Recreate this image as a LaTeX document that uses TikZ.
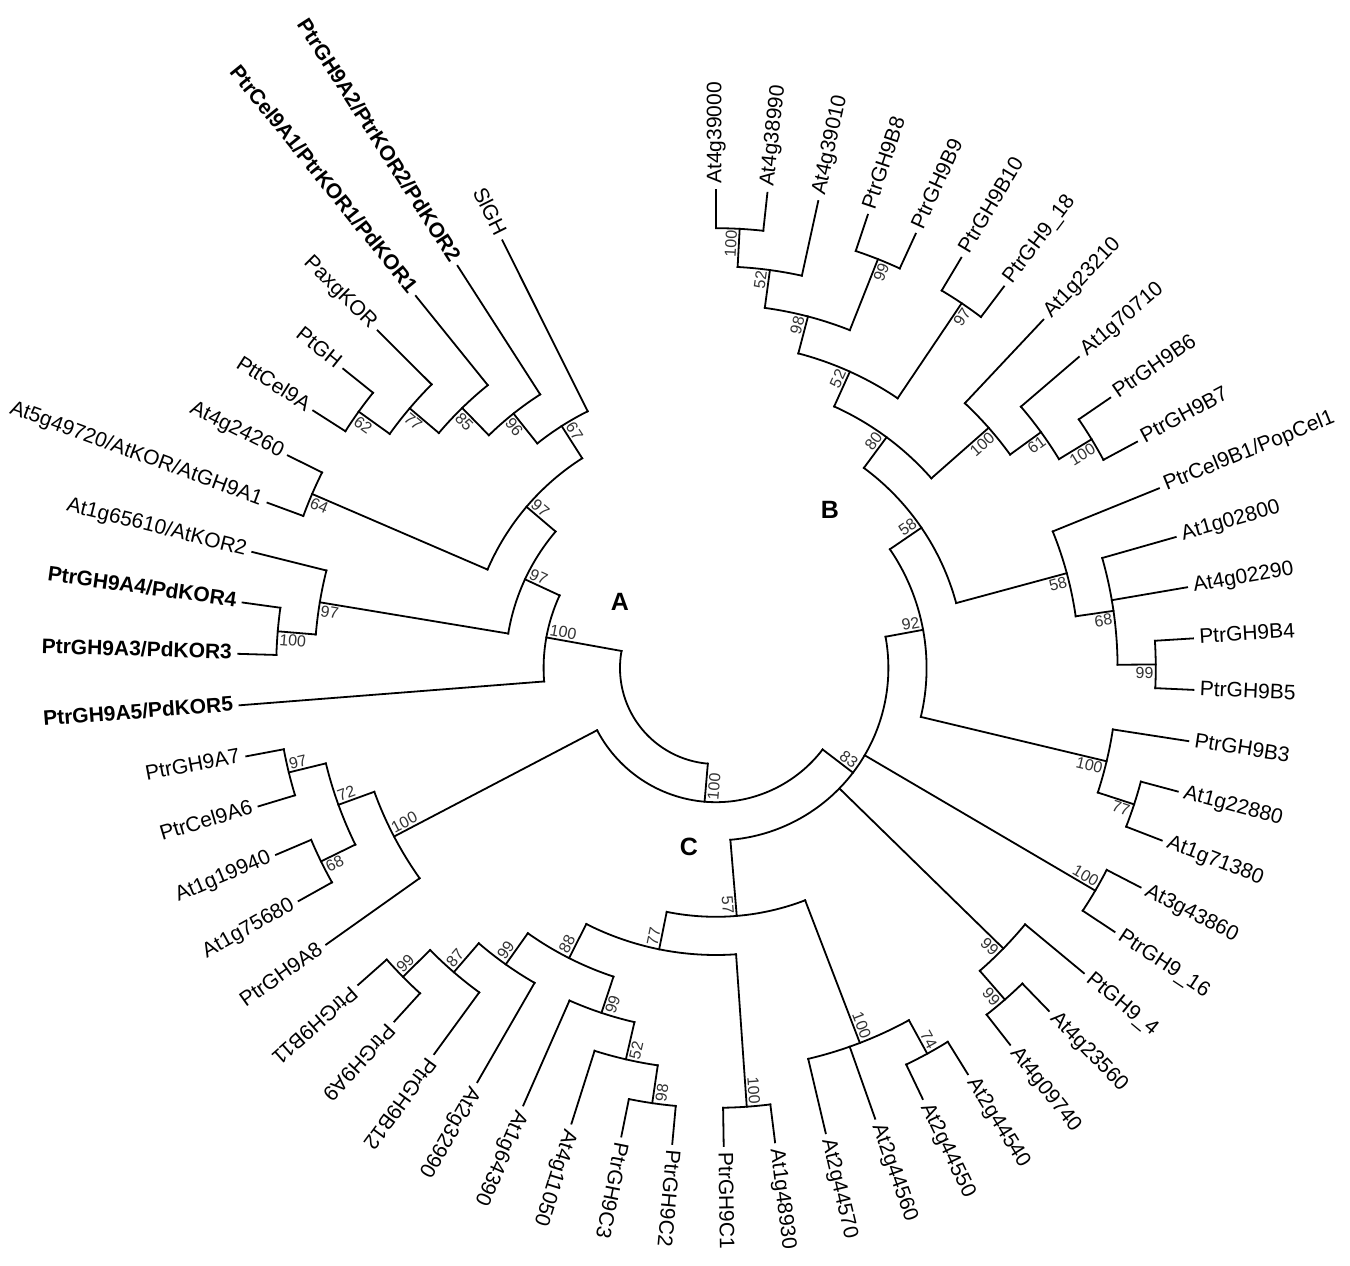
\documentclass[tikz,border=0pt]{standalone}
\usepackage{fontspec}
\setmainfont{Liberation Sans}
\makeatletter
\newcommand\setleaf[2]{\pgfmathsetmacro\my@tmp{116.55+6.175*(#2)}\expandafter\xdef\csname ang@#1\endcsname{\my@tmp}}
\newcommand\setnode[3]{\pgfmathsetmacro\my@tmp{(\csname ang@#2\endcsname+\csname ang@#3\endcsname)/2}\expandafter\xdef\csname ang@#1\endcsname{\my@tmp}}
\newcommand\ang[1]{\csname ang@#1\endcsname}
\makeatother
% leaf: index, parent height, style, text
\newcommand\lf[4]{%
  \coordinate (L#1-b) at (\ang{L#1}:{478-38.2*#2});
  \coordinate (L#1) at (\ang{L#1}:478);
  \draw[branch] (L#1-b) -- (L#1);
  \pgfmathsetmacro\myT{mod(\ang{L#1},360)}%
  \pgfmathtruncatemacro\myFl{(\myT>90.5)*(\myT<218)}%
  \ifnum\myFl=1
    \pgfmathsetmacro\myRot{\myT-180}%
    \node[leaftext,#3,rotate=\myRot,anchor=mid east] (L#1-t) at (\myT:484) {#4};
  \else
    \node[leaftext,#3,rotate=\myT,anchor=mid west] (L#1-t) at (\myT:484) {#4};
  \fi}
% internal node: name, first child, last child, height, parent height
\newcommand\inode[5]{%
  \setnode{#1}{#2}{#3}%
  \coordinate (#1-b) at (\ang{#1}:{478-38.2*#5});
  \coordinate (#1) at (\ang{#1}:{478-38.2*#4});
  \draw[branch] (#1-b) -- (#1);
  \draw[branch] (#2-b) arc[start angle=\ang{#2}, end angle=\ang{#3}, radius={478-38.2*#4}];}
% bootstrap: node, value, side (c = counterclockwise, w = clockwise)
\newcommand\bs[3]{%
  \pgfmathsetmacro\myT{mod(\ang{#1},360)}%
  \pgfmathtruncatemacro\myFl{(\myT>90.5)*(\myT<270)}%
  \ifnum\myFl=1
    \pgfmathsetmacro\myRot{\myT-180}%
    \if#3c\def\myAnc{north west}\else\def\myAnc{south west}\fi
  \else
    \pgfmathsetmacro\myRot{\myT}%
    \if#3c\def\myAnc{south east}\else\def\myAnc{north east}\fi
  \fi
  \node[bstext,rotate=\myRot,anchor=\myAnc] (#1-l) at (#1) {#2};}
\begin{document}
\begin{tikzpicture}[x=0.5pt,y=0.5pt,
  branch/.style={line width=0.9pt,line cap=rect,line join=miter},
  leaftext/.style={font=\fontsize{10.5}{12}\selectfont,inner sep=0pt},
  plainleaf/.style={},
  boldleaf/.style={font=\fontsize{10.5}{12}\selectfont\bfseries},
  bstext/.style={font=\fontsize{8}{9}\selectfont,inner sep=1pt,text=black!80},
  clade/.style={font=\fontsize{12.5}{14}\selectfont\bfseries}]
\useasboundingbox[fill=white] (-716,-597) rectangle (634,668);
\foreach \i in {0,...,54}{\setleaf{L\i}{\i}}
% leaves
\lf{0}{5}{plainleaf}{SlGH}
\lf{1}{4}{boldleaf}{PtrGH9A2/PtrKOR2/PdKOR2}
\lf{2}{3}{boldleaf}{PtrCel9A1/PtrKOR1/PdKOR1}
\lf{3}{2}{plainleaf}{PaxgKOR}
\lf{4}{1}{plainleaf}{PtGH}
\lf{5}{1}{plainleaf}{PttCel9A}
\lf{6}{1}{plainleaf}{At4g24260}
\lf{7}{1}{plainleaf}{At5g49720/AtKOR/AtGH9A1}
\lf{8}{2}{plainleaf}{At1g65610/AtKOR2}
\lf{9}{1}{boldleaf}{PtrGH9A4/PdKOR4}
\lf{10}{1}{boldleaf}{PtrGH9A3/PdKOR3}
\lf{11}{8}{boldleaf}{PtrGH9A5/PdKOR5}
\lf{12}{1}{plainleaf}{PtrGH9A7}
\lf{13}{1}{plainleaf}{PtrCel9A6}
\lf{14}{1}{plainleaf}{At1g19940}
\lf{15}{1}{plainleaf}{At1g75680}
\lf{16}{3}{plainleaf}{PtrGH9A8}
\lf{17}{1}{plainleaf}{PtrGH9B11}
\lf{18}{1}{plainleaf}{PtrGH9A9}
\lf{19}{2}{plainleaf}{PtrGH9B12}
\lf{20}{3}{plainleaf}{At2g32990}
\lf{21}{3}{plainleaf}{At1g64390}
\lf{22}{2}{plainleaf}{At4g11050}
\lf{23}{1}{plainleaf}{PtrGH9C3}
\lf{24}{1}{plainleaf}{PtrGH9C2}
\lf{25}{1}{plainleaf}{PtrGH9C1}
\lf{26}{1}{plainleaf}{At1g48930}
\lf{27}{2}{plainleaf}{At2g44570}
\lf{28}{2}{plainleaf}{At2g44560}
\lf{29}{1}{plainleaf}{At2g44550}
\lf{30}{1}{plainleaf}{At2g44540}
\lf{31}{1}{plainleaf}{At4g09740}
\lf{32}{1}{plainleaf}{At4g23560}
\lf{33}{2}{plainleaf}{PtGH9\_4}
\lf{34}{1}{plainleaf}{PtrGH9\_16}
\lf{35}{1}{plainleaf}{At3g43860}
\lf{36}{1}{plainleaf}{At1g71380}
\lf{37}{1}{plainleaf}{At1g22880}
\lf{38}{2}{plainleaf}{PtrGH9B3}
\lf{39}{1}{plainleaf}{PtrGH9B5}
\lf{40}{1}{plainleaf}{PtrGH9B4}
\lf{41}{2}{plainleaf}{At4g02290}
\lf{42}{2}{plainleaf}{At1g02800}
\lf{43}{3}{plainleaf}{PtrCel9B1/PopCel1}
\lf{44}{1}{plainleaf}{PtrGH9B7}
\lf{45}{1}{plainleaf}{PtrGH9B6}
\lf{46}{2}{plainleaf}{At1g70710}
\lf{47}{3}{plainleaf}{At1g23210}
\lf{48}{1}{plainleaf}{PtrGH9\_18}
\lf{49}{1}{plainleaf}{PtrGH9B10}
\lf{50}{1}{plainleaf}{PtrGH9B9}
\lf{51}{1}{plainleaf}{PtrGH9B8}
\lf{52}{2}{plainleaf}{At4g39010}
\lf{53}{1}{plainleaf}{At4g38990}
\lf{54}{1}{plainleaf}{At4g39000}
% internal nodes (post-order)
\inode{N62}{L4}{L5}{1}{2}
\inode{N77}{L3}{N62}{2}{3}
\inode{N85}{L2}{N77}{3}{4}
\inode{N96}{L1}{N85}{4}{5}
\inode{N67}{L0}{N96}{5}{6}
\inode{N64}{L6}{L7}{1}{6}
\inode{A97U}{N67}{N64}{6}{7}
\inode{A100b}{L9}{L10}{1}{2}
\inode{A97c}{L8}{A100b}{2}{7}
\inode{A97L}{A97U}{A97c}{7}{8}
\inode{A100}{A97L}{L11}{8}{10}
\inode{N97a}{L12}{L13}{1}{2}
\inode{N68}{L14}{L15}{1}{2}
\inode{N72}{N97a}{N68}{2}{3}
\inode{N100a}{N72}{L16}{3}{9}
\inode{N99}{L17}{L18}{1}{2}
\inode{N87}{N99}{L19}{2}{3}
\inode{N99b}{N87}{L20}{3}{4}
\inode{N98}{L23}{L24}{1}{2}
\inode{N52}{L22}{N98}{2}{3}
\inode{N99c}{L21}{N52}{3}{4}
\inode{N88}{N99b}{N99c}{4}{5}
\inode{N100d}{L25}{L26}{1}{5}
\inode{N77c}{N88}{N100d}{5}{6}
\inode{N74}{L29}{L30}{1}{2}
\inode{N100e}{L27}{N74}{2}{6}
\inode{C57}{N77c}{N100e}{6}{8}
\inode{N99y}{L31}{L32}{1}{2}
\inode{N99x}{N99y}{L33}{2}{8}
\inode{N100y}{L34}{L35}{1}{8}
\inode{N77b}{L36}{L37}{1}{2}
\inode{N100f}{N77b}{L38}{2}{7}
\inode{N99d}{L39}{L40}{1}{2}
\inode{N68b}{N99d}{L42}{2}{3}
\inode{N58b}{N68b}{L43}{3}{6}
\inode{N100g}{L44}{L45}{1}{2}
\inode{N61}{N100g}{L46}{2}{3}
\inode{N100h}{N61}{L47}{3}{5}
\inode{N97b}{L48}{L49}{1}{4}
\inode{N99e}{L50}{L51}{1}{3}
\inode{N100i}{L53}{L54}{1}{2}
\inode{N52c}{L52}{N100i}{2}{3}
\inode{N98b}{N99e}{N52c}{3}{4}
\inode{N52d}{N97b}{N98b}{4}{5}
\inode{N80}{N100h}{N52d}{5}{6}
\inode{N58a}{N58b}{N80}{6}{7}
\inode{N92}{N100f}{N58a}{7}{8}
\inode{N83}{C57}{N92}{8}{9}
\inode{X}{N100a}{N83}{9}{10}
\setnode{R}{A100}{X}
\draw[branch] (A100-b) arc[start angle=\ang{A100}, end angle=\ang{X}, radius=96];
% bootstrap values
\bs{A100}{100}{w} \bs{A97L}{97}{w} \bs{A97U}{97}{w} \bs{N67}{67}{w}
\bs{N96}{96}{c} \bs{N85}{85}{c} \bs{N77}{77}{c} \bs{N62}{62}{c}
\bs{N64}{64}{c} \bs{A97c}{97}{c} \bs{A100b}{100}{c}
\bs{N100a}{100}{w} \bs{N72}{72}{w} \bs{N97a}{97}{w} \bs{N68}{68}{c}
\bs{X}{100}{c} \bs{N83}{83}{c}
\bs{C57}{57}{w} \bs{N77c}{77}{w} \bs{N88}{88}{w} \bs{N99b}{99}{w}
\bs{N87}{87}{w} \bs{N99}{99}{w} \bs{N99c}{99}{c} \bs{N52}{52}{c}
\bs{N98}{98}{c} \bs{N100d}{100}{c} \bs{N100e}{100}{c} \bs{N74}{74}{c}
\bs{N99x}{99}{w} \bs{N99y}{99}{w} \bs{N100y}{100}{c}
\bs{N92}{92}{c} \bs{N100f}{100}{w} \bs{N77b}{77}{w} \bs{N58a}{58}{c}
\bs{N58b}{58}{w} \bs{N68b}{68}{w} \bs{N99d}{99}{w} \bs{N80}{80}{c}
\bs{N100h}{100}{w} \bs{N61}{61}{w} \bs{N100g}{100}{w} \bs{N52d}{52}{c}
\bs{N97b}{97}{w} \bs{N98b}{98}{c} \bs{N99e}{99}{w} \bs{N52c}{52}{c}
\bs{N100i}{100}{c}
% clade letters
\node[clade] (labA) at (-96,66) {A};
\node[clade] (labB) at (114,158) {B};
\node[clade] (labC) at (-27,-179) {C};
\end{tikzpicture}
\end{document}
